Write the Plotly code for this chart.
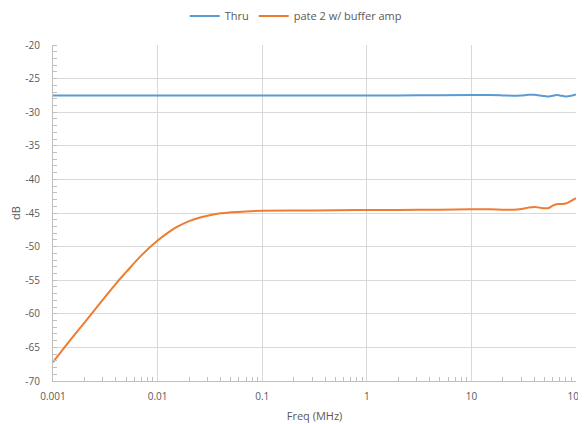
import plotly.graph_objects as go

freq = [0.001, 0.0015, 0.002, 0.003, 0.004, 0.005, 0.007, 0.01, 0.0125, 0.015, 0.02, 0.025,
        0.03, 0.04, 0.05, 0.07, 0.1, 0.2, 0.5, 1, 2, 5, 10, 15, 20, 25, 30, 35, 40, 45, 50,
        55, 60, 65, 70, 80, 90, 100]
thru = [-27.5, -27.5, -27.5, -27.5, -27.5, -27.5, -27.5, -27.5, -27.5, -27.5, -27.5, -27.5,
        -27.5, -27.5, -27.5, -27.5, -27.52, -27.52, -27.52, -27.5, -27.5, -27.48, -27.45, -27.45,
        -27.5, -27.55, -27.5, -27.42, -27.4, -27.5, -27.6, -27.65, -27.55, -27.45, -27.5, -27.65,
        -27.55, -27.35]
buffer_amp = [-67.2, -63.7, -61.3, -57.9, -55.5, -53.8, -51.3, -49.1, -47.95, -47.15, -46.2,
              -45.7, -45.4, -45.05, -44.9, -44.76, -44.68, -44.62, -44.6, -44.55, -44.55, -44.5,
              -44.45, -44.45, -44.5, -44.5, -44.4, -44.2, -44.1, -44.2, -44.3, -44.25, -43.9,
              -43.7, -43.65, -43.6, -43.2, -42.8]

x_tick_vals = [0.001, 0.01, 0.1, 1, 10, 100]
x_tick_text = ["0.001", "0.01", "0.1", "1", "10", "100"]
y_tick_vals = [-70, -65, -60, -55, -50, -45, -40, -35, -30, -25, -20]
y_tick_text = [str(v) for v in y_tick_vals]

x_minor = [m * d for d in [0.001, 0.01, 0.1, 1, 10] for m in range(2, 10)]

txt = "#595959"
fig = go.Figure()
fig.add_trace(go.Scatter(x=freq, y=thru, mode="lines", name="Thru",
                         line=dict(color="#5B9BD5", width=2, shape="spline", smoothing=1)))
fig.add_trace(go.Scatter(x=freq, y=buffer_amp, mode="lines", name="pate 2 w/ buffer amp",
                         line=dict(color="#ED7D31", width=2, shape="spline", smoothing=1)))

fig.update_layout(
    width=586, height=424,
    margin=dict(l=45, r=18, t=37, b=51, autoexpand=False),
    paper_bgcolor="white", plot_bgcolor="white",
    font=dict(family="Open Sans", size=10, color=txt),
    showlegend=True,
    legend=dict(orientation="h", x=0.465, xanchor="center", y=1.086, yanchor="middle",
                font=dict(size=11, color=txt)),
    xaxis=dict(type="log", range=[-3, 2], tickmode="array", tickvals=x_tick_vals,
               ticktext=x_tick_text, showgrid=True, gridcolor="#d9d9d9", gridwidth=1,
               showline=True, linecolor="#bfbfbf", linewidth=1, ticks="", zeroline=False,
               automargin=False, ticklabelstandoff=6,
               tickfont=dict(size=10, color=txt),
               minor=dict(tickmode="array", tickvals=x_minor, ticks="inside", ticklen=4,
                          tickcolor="#bfbfbf", showgrid=False),
               title=dict(text="Freq (MHz)", font=dict(size=11, color=txt), standoff=10)),
    yaxis=dict(range=[-70, -20], tickmode="array", tickvals=y_tick_vals, ticktext=y_tick_text,
               showgrid=True, gridcolor="#d9d9d9", gridwidth=1,
               showline=True, linecolor="#bfbfbf", linewidth=1, ticks="", zeroline=False,
               automargin=False, ticklabelstandoff=10,
               tickfont=dict(size=10, color=txt),
               minor=dict(dtick=1, ticks="inside", ticklen=4, tickcolor="#bfbfbf", showgrid=False),
               title=dict(text="dB", font=dict(size=11, color=txt), standoff=3)),
)
fig.write_html("out.html")
